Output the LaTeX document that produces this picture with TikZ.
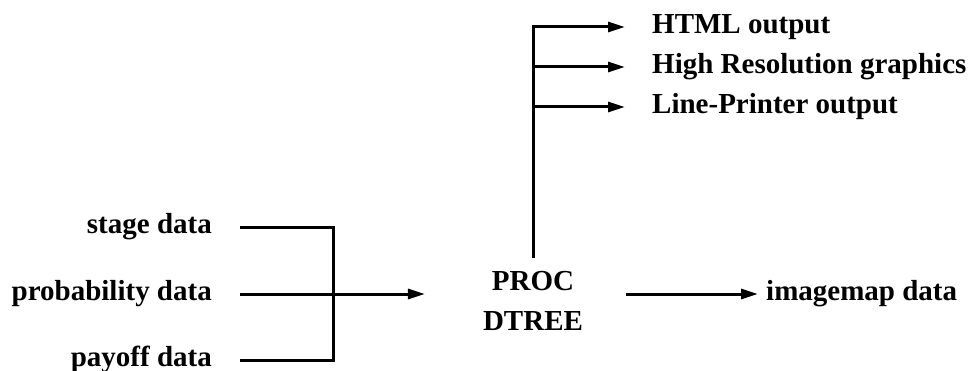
\documentclass[tikz,border=0pt]{standalone}
\usepackage{fontspec}
\setmainfont{Liberation Serif}
\usetikzlibrary{arrows.meta}
\begin{document}
\begin{tikzpicture}[x=1pt,y=-1pt,
  lbl/.style={inner sep=0pt,font=\bfseries\fontsize{29}{40}\selectfont},
  ln/.style={line width=3pt},
  arr/.style={ln,-{Triangle[length=17pt,width=10pt]}}]
\useasboundingbox (0,0) rectangle (971,371);
\node[lbl,anchor=base east] (stage) at (212,234) {stage data};
\node[lbl,anchor=base east] (prob) at (212,300) {probability data};
\node[lbl,anchor=base east] (pay) at (212,366) {payoff data};
\node[lbl,align=center,anchor=base] (proc) at (533,330) {PROC\\DTREE};
\node[lbl,anchor=base west] (html) at (652,34) {HTML output};
\node[lbl,anchor=base west] (hires) at (652,74) {High Resolution graphics};
\node[lbl,anchor=base west] (lp) at (652,114) {Line-Printer output};
\node[lbl,anchor=base west] (imap) at (766,300) {imagemap data};
% connector end points beside the labels
\coordinate (stageP) at ([shift={(28,-6)}]stage.base east);
\coordinate (probP) at ([shift={(28,-6)}]prob.base east);
\coordinate (payP) at ([shift={(28,-6)}]pay.base east);
\coordinate (htmlP) at ([shift={(-27,-7)}]html.base west);
\coordinate (hiresP) at ([shift={(-27,-7)}]hires.base west);
\coordinate (lpP) at ([shift={(-27,-7)}]lp.base west);
\coordinate (imapP) at ([shift={(-8,-6)}]imap.base west);
\coordinate (procW) at ([xshift=-58pt]proc.west);
\coordinate (procE) at ([xshift=43pt]proc.east);
\coordinate (procN) at ([yshift=13pt]proc.north);
\coordinate (jx) at (333,0);
\draw[ln] (stageP) -| (jx |- payP) -- (payP);
\draw[arr] (probP) -- (procW |- probP);
\draw[arr] (procN) |- (htmlP);
\draw[arr] (procN |- hiresP) -- (hiresP);
\draw[arr] (procN |- lpP) -- (lpP);
\draw[arr] (procE |- imapP) -- (imapP);
\end{tikzpicture}
\end{document}
